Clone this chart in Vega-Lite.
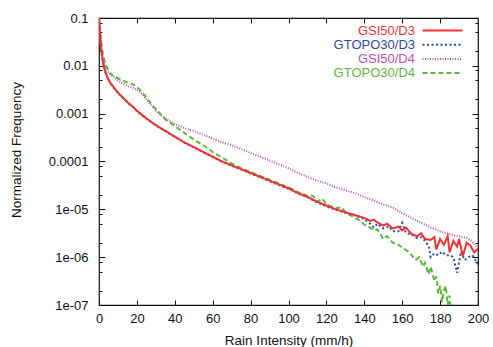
{
  "$schema": "https://vega.github.io/schema/vega-lite/v6.json",
  "autosize": "none",
  "width": 379,
  "height": 287,
  "padding": {"left": 99, "top": 18, "right": 15, "bottom": 42},
  "config": {
    "font": "Liberation Sans",
    "view": {"stroke": "#111", "strokeWidth": 1.2},
    "axis": {"domain": false, "grid": false, "tickColor": "#111", "labelColor": "#111", "titleColor": "#111", "labelFontSize": 13, "titleFontSize": 13.5, "titleFontWeight": "normal", "labelFlush": false, "labelBound": false, "labelOverlap": false}
  },
  "data": {"values": [
    {"x":0,"s":"GSI50/D4","f":1.0e-1},{"x":0.5,"s":"GSI50/D4","f":5.01e-2},{"x":1,"s":"GSI50/D4","f":2.75e-2},{"x":2,"s":"GSI50/D4","f":1.38e-2},{"x":3,"s":"GSI50/D4","f":1.0e-2},{"x":4,"s":"GSI50/D4","f":8.32e-3},{"x":6,"s":"GSI50/D4","f":6.61e-3},{"x":8,"s":"GSI50/D4","f":5.75e-3},{"x":10,"s":"GSI50/D4","f":5.01e-3},{"x":12,"s":"GSI50/D4","f":4.37e-3},{"x":15,"s":"GSI50/D4","f":3.8e-3},{"x":18,"s":"GSI50/D4","f":3.47e-3},{"x":20,"s":"GSI50/D4","f":3.16e-3},{"x":22,"s":"GSI50/D4","f":2.75e-3},{"x":25,"s":"GSI50/D4","f":2.0e-3},{"x":28,"s":"GSI50/D4","f":1.45e-3},{"x":30,"s":"GSI50/D4","f":1.15e-3},{"x":33,"s":"GSI50/D4","f":9.12e-4},{"x":36,"s":"GSI50/D4","f":7.59e-4},{"x":40,"s":"GSI50/D4","f":6.03e-4},{"x":45,"s":"GSI50/D4","f":5.01e-4},{"x":50,"s":"GSI50/D4","f":4.37e-4},{"x":55,"s":"GSI50/D4","f":3.63e-4},{"x":60,"s":"GSI50/D4","f":3.02e-4},{"x":65,"s":"GSI50/D4","f":2.51e-4},{"x":70,"s":"GSI50/D4","f":2.19e-4},{"x":75,"s":"GSI50/D4","f":1.82e-4},{"x":80,"s":"GSI50/D4","f":1.51e-4},{"x":85,"s":"GSI50/D4","f":1.26e-4},{"x":90,"s":"GSI50/D4","f":1.05e-4},{"x":95,"s":"GSI50/D4","f":8.71e-5},{"x":100,"s":"GSI50/D4","f":7.24e-5},{"x":105,"s":"GSI50/D4","f":5.75e-5},{"x":110,"s":"GSI50/D4","f":4.79e-5},{"x":115,"s":"GSI50/D4","f":3.98e-5},{"x":120,"s":"GSI50/D4","f":3.47e-5},{"x":125,"s":"GSI50/D4","f":2.88e-5},{"x":130,"s":"GSI50/D4","f":2.51e-5},{"x":135,"s":"GSI50/D4","f":2.19e-5},{"x":140,"s":"GSI50/D4","f":1.82e-5},{"x":145,"s":"GSI50/D4","f":1.51e-5},{"x":150,"s":"GSI50/D4","f":1.26e-5},{"x":155,"s":"GSI50/D4","f":1.1e-5},{"x":160,"s":"GSI50/D4","f":8.32e-6},{"x":165,"s":"GSI50/D4","f":6.61e-6},{"x":170,"s":"GSI50/D4","f":5.25e-6},{"x":175,"s":"GSI50/D4","f":4.17e-6},{"x":178,"s":"GSI50/D4","f":3.8e-6},{"x":180,"s":"GSI50/D4","f":3.47e-6},{"x":185,"s":"GSI50/D4","f":3.02e-6},{"x":190,"s":"GSI50/D4","f":2.75e-6},{"x":194,"s":"GSI50/D4","f":2.51e-6},{"x":197,"s":"GSI50/D4","f":2.09e-6},{"x":200,"s":"GSI50/D4","f":1.51e-6},

    {"x":0,"s":"GTOPO30/D4","f":1.0e-1},{"x":0.5,"s":"GTOPO30/D4","f":6.31e-2},{"x":1,"s":"GTOPO30/D4","f":3.63e-2},{"x":2,"s":"GTOPO30/D4","f":1.82e-2},{"x":3,"s":"GTOPO30/D4","f":1.26e-2},{"x":4,"s":"GTOPO30/D4","f":9.55e-3},{"x":6,"s":"GTOPO30/D4","f":6.92e-3},{"x":8,"s":"GTOPO30/D4","f":6.03e-3},{"x":10,"s":"GTOPO30/D4","f":5.5e-3},{"x":12,"s":"GTOPO30/D4","f":5.01e-3},{"x":15,"s":"GTOPO30/D4","f":4.47e-3},{"x":18,"s":"GTOPO30/D4","f":4.07e-3},{"x":20,"s":"GTOPO30/D4","f":3.63e-3},{"x":22,"s":"GTOPO30/D4","f":3.02e-3},{"x":25,"s":"GTOPO30/D4","f":2.19e-3},{"x":28,"s":"GTOPO30/D4","f":1.51e-3},{"x":30,"s":"GTOPO30/D4","f":1.26e-3},{"x":35,"s":"GTOPO30/D4","f":7.59e-4},{"x":40,"s":"GTOPO30/D4","f":5.5e-4},{"x":45,"s":"GTOPO30/D4","f":3.98e-4},{"x":50,"s":"GTOPO30/D4","f":2.88e-4},{"x":55,"s":"GTOPO30/D4","f":2.19e-4},{"x":60,"s":"GTOPO30/D4","f":1.58e-4},{"x":65,"s":"GTOPO30/D4","f":1.2e-4},{"x":70,"s":"GTOPO30/D4","f":9.12e-5},{"x":75,"s":"GTOPO30/D4","f":7.24e-5},{"x":80,"s":"GTOPO30/D4","f":6.03e-5},{"x":85,"s":"GTOPO30/D4","f":5.01e-5},{"x":90,"s":"GTOPO30/D4","f":4.17e-5},{"x":95,"s":"GTOPO30/D4","f":3.47e-5},{"x":100,"s":"GTOPO30/D4","f":2.88e-5},{"x":105,"s":"GTOPO30/D4","f":2.29e-5},{"x":110,"s":"GTOPO30/D4","f":1.91e-5},{"x":113,"s":"GTOPO30/D4","f":1.91e-5},{"x":115,"s":"GTOPO30/D4","f":1.45e-5},{"x":118,"s":"GTOPO30/D4","f":1.66e-5},{"x":120,"s":"GTOPO30/D4","f":1.26e-5},{"x":125,"s":"GTOPO30/D4","f":1.05e-5},{"x":128,"s":"GTOPO30/D4","f":1.1e-5},{"x":130,"s":"GTOPO30/D4","f":8.71e-6},{"x":135,"s":"GTOPO30/D4","f":6.61e-6},{"x":138,"s":"GTOPO30/D4","f":5.75e-6},{"x":140,"s":"GTOPO30/D4","f":4.79e-6},{"x":143,"s":"GTOPO30/D4","f":4.17e-6},{"x":145,"s":"GTOPO30/D4","f":3.63e-6},{"x":147,"s":"GTOPO30/D4","f":3.8e-6},{"x":150,"s":"GTOPO30/D4","f":2.4e-6},{"x":152,"s":"GTOPO30/D4","f":2.75e-6},{"x":155,"s":"GTOPO30/D4","f":2.0e-6},{"x":158,"s":"GTOPO30/D4","f":1.82e-6},{"x":160,"s":"GTOPO30/D4","f":1.58e-6},{"x":163,"s":"GTOPO30/D4","f":1.32e-6},{"x":165,"s":"GTOPO30/D4","f":1.1e-6},{"x":167,"s":"GTOPO30/D4","f":8.71e-7},{"x":169,"s":"GTOPO30/D4","f":1.0e-6},{"x":171,"s":"GTOPO30/D4","f":6.31e-7},{"x":172,"s":"GTOPO30/D4","f":7.59e-7},{"x":174,"s":"GTOPO30/D4","f":4.37e-7},{"x":175,"s":"GTOPO30/D4","f":6.31e-7},{"x":177,"s":"GTOPO30/D4","f":3.16e-7},{"x":178,"s":"GTOPO30/D4","f":3.98e-7},{"x":179,"s":"GTOPO30/D4","f":1.74e-7},{"x":180,"s":"GTOPO30/D4","f":2.51e-7},{"x":181,"s":"GTOPO30/D4","f":1.15e-7},{"x":182,"s":"GTOPO30/D4","f":2.0e-7},{"x":183,"s":"GTOPO30/D4","f":2.51e-7},{"x":184,"s":"GTOPO30/D4","f":1.0e-7},{"x":185,"s":"GTOPO30/D4","f":1.58e-7},{"x":186,"s":"GTOPO30/D4","f":3.98e-8},

    {"x":0,"s":"GTOPO30/D3","f":1.0e-1},{"x":0.5,"s":"GTOPO30/D3","f":4.8e-2},{"x":1,"s":"GTOPO30/D3","f":2.4e-2},{"x":2,"s":"GTOPO30/D3","f":1.2e-2},{"x":3,"s":"GTOPO30/D3","f":8.1e-3},{"x":4,"s":"GTOPO30/D3","f":6.2e-3},{"x":5,"s":"GTOPO30/D3","f":5.2e-3},{"x":6,"s":"GTOPO30/D3","f":4.3e-3},{"x":8,"s":"GTOPO30/D3","f":3.4e-3},{"x":10,"s":"GTOPO30/D3","f":2.7e-3},{"x":12,"s":"GTOPO30/D3","f":2.25e-3},{"x":15,"s":"GTOPO30/D3","f":1.72e-3},{"x":18,"s":"GTOPO30/D3","f":1.37e-3},{"x":20,"s":"GTOPO30/D3","f":1.14e-3},{"x":25,"s":"GTOPO30/D3","f":7.9e-4},{"x":30,"s":"GTOPO30/D3","f":5.7e-4},{"x":35,"s":"GTOPO30/D3","f":4.3e-4},{"x":40,"s":"GTOPO30/D3","f":3.3e-4},{"x":45,"s":"GTOPO30/D3","f":2.5e-4},{"x":50,"s":"GTOPO30/D3","f":1.98e-4},{"x":55,"s":"GTOPO30/D3","f":1.56e-4},{"x":60,"s":"GTOPO30/D3","f":1.25e-4},{"x":65,"s":"GTOPO30/D3","f":9.8e-5},{"x":70,"s":"GTOPO30/D3","f":8.2e-5},{"x":75,"s":"GTOPO30/D3","f":6.8e-5},{"x":80,"s":"GTOPO30/D3","f":5.6e-5},{"x":85,"s":"GTOPO30/D3","f":4.7e-5},{"x":90,"s":"GTOPO30/D3","f":3.9e-5},{"x":95,"s":"GTOPO30/D3","f":3.2e-5},{"x":100,"s":"GTOPO30/D3","f":2.7e-5},{"x":105,"s":"GTOPO30/D3","f":2.15e-5},{"x":110,"s":"GTOPO30/D3","f":1.8e-5},{"x":115,"s":"GTOPO30/D3","f":1.4e-5},{"x":120,"s":"GTOPO30/D3","f":1.15e-5},{"x":125,"s":"GTOPO30/D3","f":9.8e-6},{"x":130,"s":"GTOPO30/D3","f":8.5e-6},{"x":135,"s":"GTOPO30/D3","f":7.4e-6},{"x":140,"s":"GTOPO30/D3","f":6.3e-6},{"x":143,"s":"GTOPO30/D3","f":5.0e-6},{"x":145,"s":"GTOPO30/D3","f":4.2e-6},{"x":147,"s":"GTOPO30/D3","f":5.0e-6},{"x":150,"s":"GTOPO30/D3","f":4.0e-6},{"x":153,"s":"GTOPO30/D3","f":4.4e-6},{"x":155,"s":"GTOPO30/D3","f":3.5e-6},{"x":158,"s":"GTOPO30/D3","f":3.5e-6},{"x":160,"s":"GTOPO30/D3","f":5.2e-6},{"x":162,"s":"GTOPO30/D3","f":3.2e-6},{"x":165,"s":"GTOPO30/D3","f":3.0e-6},{"x":168,"s":"GTOPO30/D3","f":2.5e-6},{"x":170,"s":"GTOPO30/D3","f":2.6e-6},{"x":172,"s":"GTOPO30/D3","f":2.2e-6},{"x":174,"s":"GTOPO30/D3","f":1.7e-6},{"x":175,"s":"GTOPO30/D3","f":1.0e-6},{"x":177,"s":"GTOPO30/D3","f":1.2e-6},{"x":179,"s":"GTOPO30/D3","f":1.1e-6},{"x":181,"s":"GTOPO30/D3","f":1.3e-6},{"x":183,"s":"GTOPO30/D3","f":1.1e-6},{"x":185,"s":"GTOPO30/D3","f":1.1e-6},{"x":187,"s":"GTOPO30/D3","f":1.0e-6},{"x":189,"s":"GTOPO30/D3","f":4.7e-7},{"x":191,"s":"GTOPO30/D3","f":1.3e-6},{"x":193,"s":"GTOPO30/D3","f":8.7e-7},{"x":195,"s":"GTOPO30/D3","f":1.0e-6},{"x":197,"s":"GTOPO30/D3","f":1.1e-6},{"x":200,"s":"GTOPO30/D3","f":7.1e-7},

    {"x":0,"s":"GSI50/D3","f":1.0e-1},{"x":0.5,"s":"GSI50/D3","f":5.01e-2},{"x":1,"s":"GSI50/D3","f":2.51e-2},{"x":2,"s":"GSI50/D3","f":1.26e-2},{"x":3,"s":"GSI50/D3","f":8.32e-3},{"x":4,"s":"GSI50/D3","f":6.31e-3},{"x":5,"s":"GSI50/D3","f":5.25e-3},{"x":6,"s":"GSI50/D3","f":4.37e-3},{"x":8,"s":"GSI50/D3","f":3.47e-3},{"x":10,"s":"GSI50/D3","f":2.75e-3},{"x":12,"s":"GSI50/D3","f":2.29e-3},{"x":15,"s":"GSI50/D3","f":1.74e-3},{"x":18,"s":"GSI50/D3","f":1.38e-3},{"x":20,"s":"GSI50/D3","f":1.15e-3},{"x":25,"s":"GSI50/D3","f":7.94e-4},{"x":30,"s":"GSI50/D3","f":5.75e-4},{"x":35,"s":"GSI50/D3","f":4.37e-4},{"x":40,"s":"GSI50/D3","f":3.31e-4},{"x":45,"s":"GSI50/D3","f":2.51e-4},{"x":50,"s":"GSI50/D3","f":2.0e-4},{"x":55,"s":"GSI50/D3","f":1.58e-4},{"x":60,"s":"GSI50/D3","f":1.26e-4},{"x":65,"s":"GSI50/D3","f":1.0e-4},{"x":70,"s":"GSI50/D3","f":8.32e-5},{"x":75,"s":"GSI50/D3","f":6.92e-5},{"x":80,"s":"GSI50/D3","f":5.75e-5},{"x":85,"s":"GSI50/D3","f":4.79e-5},{"x":90,"s":"GSI50/D3","f":3.98e-5},{"x":95,"s":"GSI50/D3","f":3.31e-5},{"x":100,"s":"GSI50/D3","f":2.75e-5},{"x":105,"s":"GSI50/D3","f":2.19e-5},{"x":110,"s":"GSI50/D3","f":1.82e-5},{"x":115,"s":"GSI50/D3","f":1.45e-5},{"x":120,"s":"GSI50/D3","f":1.2e-5},{"x":125,"s":"GSI50/D3","f":1.0e-5},{"x":130,"s":"GSI50/D3","f":8.71e-6},{"x":135,"s":"GSI50/D3","f":7.59e-6},{"x":140,"s":"GSI50/D3","f":6.61e-6},{"x":143,"s":"GSI50/D3","f":5.75e-6},{"x":145,"s":"GSI50/D3","f":6.03e-6},{"x":148,"s":"GSI50/D3","f":5.01e-6},{"x":150,"s":"GSI50/D3","f":4.57e-6},{"x":152,"s":"GSI50/D3","f":5.01e-6},{"x":155,"s":"GSI50/D3","f":3.98e-6},{"x":158,"s":"GSI50/D3","f":4.37e-6},{"x":160,"s":"GSI50/D3","f":3.63e-6},{"x":162,"s":"GSI50/D3","f":4.17e-6},{"x":165,"s":"GSI50/D3","f":3.02e-6},{"x":168,"s":"GSI50/D3","f":2.75e-6},{"x":170,"s":"GSI50/D3","f":3.16e-6},{"x":172,"s":"GSI50/D3","f":2.4e-6},{"x":175,"s":"GSI50/D3","f":2.29e-6},{"x":177,"s":"GSI50/D3","f":2.63e-6},{"x":178,"s":"GSI50/D3","f":1.45e-6},{"x":180,"s":"GSI50/D3","f":2.4e-6},{"x":182,"s":"GSI50/D3","f":1.82e-6},{"x":184,"s":"GSI50/D3","f":2.75e-6},{"x":185,"s":"GSI50/D3","f":1.26e-6},{"x":187,"s":"GSI50/D3","f":2.19e-6},{"x":189,"s":"GSI50/D3","f":1.66e-6},{"x":190,"s":"GSI50/D3","f":2.4e-6},{"x":192,"s":"GSI50/D3","f":1.05e-6},{"x":194,"s":"GSI50/D3","f":2.0e-6},{"x":196,"s":"GSI50/D3","f":1.74e-6},{"x":198,"s":"GSI50/D3","f":1.26e-6},{"x":200,"s":"GSI50/D3","f":1.51e-6}
  ]},
  "layer": [
    {
      "mark": {"type": "line", "clip": true},
      "encoding": {
        "x": {"field": "x", "type": "quantitative", "scale": {"domain": [0, 200], "nice": false, "zero": false},
          "axis": {"orient": "bottom", "values": [0,20,40,60,80,100,120,140,160,180,200], "tickSize": -5, "labelPadding": 12, "title": "Rain Intensity (mm/h)", "titlePadding": 8}},
        "y": {"field": "f", "type": "quantitative", "scale": {"type": "log", "domain": [1e-7, 0.1], "nice": false},
          "axis": {"orient": "left", "values": [1e-7,1e-6,1e-5,1e-4,1e-3,1e-2,1e-1], "tickSize": -6, "labelPadding": 17,
            "labelExpr": "datum.value >= 0.05 ? '0.1' : datum.value >= 0.005 ? '0.01' : datum.value >= 0.0005 ? '0.001' : datum.value >= 0.00005 ? '0.0001' : datum.value >= 0.000005 ? '1e-05' : datum.value >= 0.0000005 ? '1e-06' : '1e-07'",
            "title": "Normalized Frequency", "titleX": -76, "titleY": 131.5}},
        "color": {"field": "s", "type": "nominal",
          "scale": {"domain": ["GSI50/D3","GTOPO30/D3","GSI50/D4","GTOPO30/D4"], "range": ["#f03232","#2f4aa8","#c04fb8","#5cb83c"]},
          "legend": {"orient": "none", "legendX": 337, "legendY": 6, "title": null, "symbolType": "M-4,0H4", "symbolSize": 100,
            "labelAlign": "right", "labelOffset": -34, "labelFontSize": 13, "rowPadding": 0.2, "padding": 0,
            "encode": {"labels": {"update": {"fill": {"scale": "color", "field": "value"}}}}}},
        "strokeDash": {"field": "s", "type": "nominal",
          "scale": {"domain": ["GSI50/D3","GTOPO30/D3","GSI50/D4","GTOPO30/D4"], "range": [[1,0],[2,2.5],[1,1.5],[5,3]]}},
        "strokeWidth": {"field": "s", "type": "nominal",
          "scale": {"domain": ["GSI50/D3","GTOPO30/D3","GSI50/D4","GTOPO30/D4"], "range": [2,2,1.2,1.5]}}
      }
    },
    {
      "mark": {"type": "line", "opacity": 0, "strokeOpacity": 0},
      "encoding": {
        "x": {"field": "x", "type": "quantitative", "scale": {"domain": [0, 200], "nice": false, "zero": false},
          "axis": {"orient": "top", "values": [20,40,60,80,100,120,140,160,180], "tickSize": -5, "labels": false, "title": null}},
        "y": {"field": "f", "type": "quantitative", "scale": {"type": "log", "domain": [1e-7, 0.1], "nice": false},
          "axis": {"orient": "right", "values": [1e-6,1e-5,1e-4,1e-3,1e-2], "tickSize": -6, "labels": false, "title": null}}
      }
    },
    {
      "mark": {"type": "line", "opacity": 0, "strokeOpacity": 0},
      "encoding": {
        "x": {"field": "x", "type": "quantitative", "scale": {"domain": [0, 200], "nice": false, "zero": false}, "axis": null},
        "y": {"field": "f", "type": "quantitative", "scale": {"type": "log", "domain": [1e-7, 0.1], "nice": false},
          "axis": {"orient": "left", "values": [2e-7,5e-7,8e-7,2e-6,5e-6,8e-6,2e-5,5e-5,8e-5,2e-4,5e-4,8e-4,2e-3,5e-3,8e-3,2e-2,5e-2,8e-2], "tickSize": -3, "labels": false, "title": null}}
      }
    },
    {
      "mark": {"type": "line", "opacity": 0, "strokeOpacity": 0},
      "encoding": {
        "x": {"field": "x", "type": "quantitative", "scale": {"domain": [0, 200], "nice": false, "zero": false}, "axis": null},
        "y": {"field": "f", "type": "quantitative", "scale": {"type": "log", "domain": [1e-7, 0.1], "nice": false},
          "axis": {"orient": "right", "values": [2e-7,5e-7,8e-7,2e-6,5e-6,8e-6,2e-5,5e-5,8e-5,2e-4,5e-4,8e-4,2e-3,5e-3,8e-3,2e-2,5e-2,8e-2], "tickSize": -3, "labels": false, "title": null}}
      }
    }
  ],
  "resolve": {"axis": {"x": "independent", "y": "independent"}}
}
